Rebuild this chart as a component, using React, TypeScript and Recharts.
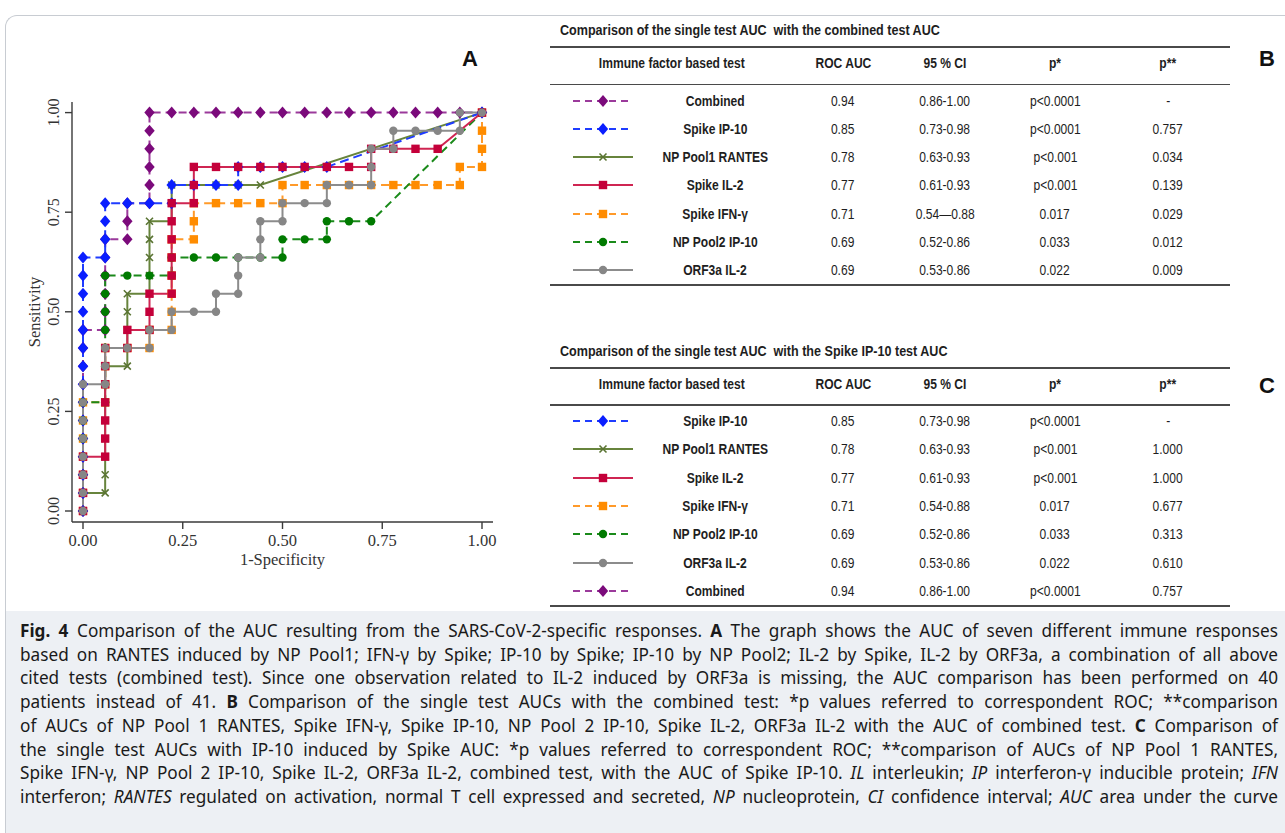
import React from 'react';
import { LineChart, Line, XAxis, YAxis } from 'recharts';

const N_NEG = 18;
const N_POS = 22;

const xTicks = [0, 0.25, 0.5, 0.75, 1];
const yTicks = [0, 0.25, 0.5, 0.75, 1];

// [false positives, true positives] at each cut-off
const combinedSteps = [
  [0, 0], [0, 1], [0, 2], [0, 3], [0, 4], [0, 5], [0, 6], [0, 7], [0, 8], [0, 9], [0, 10],
  [1, 10], [1, 11], [1, 12], [1, 13], [1, 14], [1, 15], [2, 15], [2, 16], [2, 17],
  [3, 17], [3, 18], [3, 19], [3, 20], [3, 21], [3, 22], [4, 22], [5, 22], [6, 22], [7, 22],
  [8, 22], [9, 22], [10, 22], [11, 22], [12, 22], [13, 22], [14, 22], [15, 22], [16, 22], [17, 22], [18, 22],
];
const spikeIp10Steps = [
  [0, 0], [0, 1], [0, 2], [0, 3], [0, 4], [0, 5], [0, 6], [0, 7], [0, 8], [0, 9], [0, 10], [0, 11], [0, 12], [0, 13], [0, 14],
  [1, 14], [1, 15], [1, 16], [1, 17], [2, 17], [3, 17], [4, 17], [4, 18], [5, 18], [6, 18], [7, 18],
  [7, 19], [8, 19], [9, 19], [10, 19], [11, 19], [18, 22],
];
const pool1RantesSteps = [
  [0, 0], [0, 1], [1, 1], [1, 2], [1, 3], [1, 4], [1, 5], [1, 6], [1, 7], [1, 8], [2, 8], [2, 9], [2, 10], [2, 11], [2, 12],
  [3, 12], [3, 13], [3, 14], [3, 15], [3, 16], [4, 16], [4, 17], [4, 18], [5, 18], [6, 18], [7, 18], [8, 18], [18, 22],
];
const spikeIl2Steps = [
  [0, 0], [0, 1], [0, 2], [0, 3], [1, 3], [1, 4], [1, 5], [1, 6], [1, 7], [1, 8], [1, 9], [2, 9], [2, 10], [3, 10], [3, 11], [3, 12],
  [4, 12], [4, 13], [4, 14], [4, 15], [4, 16], [4, 17], [5, 17], [5, 18], [5, 19], [6, 19], [7, 19], [8, 19], [9, 19], [10, 19],
  [11, 19], [12, 19], [13, 19], [13, 20], [14, 20], [15, 20], [16, 20], [18, 22],
];
const spikeIfnSteps = [
  [0, 0], [0, 1], [0, 2], [0, 3], [0, 4], [0, 5], [0, 6], [1, 6], [1, 7], [1, 8], [1, 9], [2, 9], [3, 9], [3, 10],
  [4, 10], [4, 11], [4, 12], [4, 13], [4, 14], [4, 15], [5, 15], [5, 16], [5, 17], [6, 17], [7, 17], [8, 17], [9, 17],
  [9, 18], [10, 18], [11, 18], [12, 18], [13, 18], [14, 18], [15, 18], [16, 18], [17, 18], [17, 19], [18, 19], [18, 20], [18, 21], [18, 22],
];
const pool2Ip10Steps = [
  [0, 0], [0, 1], [0, 2], [0, 3], [0, 4], [0, 5], [0, 6], [1, 6], [1, 7], [1, 8], [1, 9], [1, 10], [1, 11], [1, 12], [1, 13],
  [2, 13], [3, 13], [4, 13], [4, 14], [5, 14], [6, 14], [7, 14], [8, 14], [9, 14], [9, 15], [10, 15], [11, 15],
  [11, 16], [12, 16], [13, 16], [18, 22],
];
const orf3aIl2Steps = [
  [0, 0], [0, 1], [0, 2], [0, 3], [0, 4], [0, 5], [0, 6], [0, 7], [1, 7], [1, 8], [1, 9], [2, 9], [3, 9], [3, 10], [4, 10], [4, 11],
  [5, 11], [6, 11], [6, 12], [7, 12], [7, 13], [7, 14], [8, 14], [8, 15], [8, 16], [9, 16], [9, 17], [10, 17], [11, 17],
  [11, 18], [12, 18], [13, 18], [13, 19], [13, 20], [14, 20], [14, 21], [15, 21], [16, 21], [17, 21], [17, 22], [18, 22],
];

const toRoc = (steps: number[][]) => steps.map(([fp, tp]) => ({ x: fp / N_NEG, y: tp / N_POS }));

type Kind = 'diamond' | 'square' | 'circle' | 'x';
interface Style { stroke: string; fill: string; dash?: string; marker: Kind }

const styles: Record<string, Style> = {
  combined: { stroke: '#9b3a9b', fill: '#7b0a7b', dash: '8 5', marker: 'diamond' },
  ip10: { stroke: '#1f3cff', fill: '#0a1eff', dash: '9 5', marker: 'diamond' },
  rantes: { stroke: '#67843c', fill: '#5a7433', marker: 'x' },
  il2: { stroke: '#cf2552', fill: '#c4003a', marker: 'square' },
  ifn: { stroke: '#ff9a2a', fill: '#ff8c00', dash: '8 5', marker: 'square' },
  pool2: { stroke: '#1a8a1a', fill: '#007a00', dash: '8 5', marker: 'circle' },
  orf3a: { stroke: '#8c8c8c', fill: '#868686', marker: 'circle' },
};

// bottom to top
const drawOrder = [
  { key: 'combined', steps: combinedSteps },
  { key: 'ifn', steps: spikeIfnSteps },
  { key: 'rantes', steps: pool1RantesSteps },
  { key: 'ip10', steps: spikeIp10Steps },
  { key: 'pool2', steps: pool2Ip10Steps },
  { key: 'il2', steps: spikeIl2Steps },
  { key: 'orf3a', steps: orf3aIl2Steps },
];

// table B and C
const tableBNames = ['Combined', 'Spike IP-10', 'NP Pool1 RANTES', 'Spike IL-2', 'Spike IFN-γ', 'NP Pool2 IP-10', 'ORF3a IL-2'];
const tableBKeys = ['combined', 'ip10', 'rantes', 'il2', 'ifn', 'pool2', 'orf3a'];
const tableBAuc = ['0.94', '0.85', '0.78', '0.77', '0.71', '0.69', '0.69'];
const tableBCi = ['0.86-1.00', '0.73-0.98', '0.63-0.93', '0.61-0.93', '0.54—0.88', '0.52-0.86', '0.53-0.86'];
const tableBP1 = ['p<0.0001', 'p<0.0001', 'p<0.001', 'p<0.001', '0.017', '0.033', '0.022'];
const tableBP2 = ['-', '0.757', '0.034', '0.139', '0.029', '0.012', '0.009'];

const tableCNames = ['Spike IP-10', 'NP Pool1 RANTES', 'Spike IL-2', 'Spike IFN-γ', 'NP Pool2 IP-10', 'ORF3a IL-2', 'Combined'];
const tableCKeys = ['ip10', 'rantes', 'il2', 'ifn', 'pool2', 'orf3a', 'combined'];
const tableCAuc = ['0.85', '0.78', '0.77', '0.71', '0.69', '0.69', '0.94'];
const tableCCi = ['0.73-0.98', '0.63-0.93', '0.61-0.93', '0.54-0.88', '0.52-0.86', '0.53-0.86', '0.86-1.00'];
const tableCP1 = ['p<0.0001', 'p<0.001', 'p<0.001', '0.017', '0.033', '0.022', 'p<0.0001'];
const tableCP2 = ['-', '1.000', '1.000', '0.677', '0.313', '0.610', '0.757'];

const SERIF = "'Liberation Serif', 'Times New Roman', serif";
const ARIAL = "'Liberation Sans', Arial, sans-serif";
const NARROW_X = 0.86; // squeeze Liberation Sans towards Arial Narrow

function Marker({ kind, cx, cy, fill }: { kind: Kind; cx: number; cy: number; fill: string }) {
  if (kind === 'diamond') {
    return <polygon points={`${cx},${cy - 6} ${cx + 5.2},${cy} ${cx},${cy + 6} ${cx - 5.2},${cy}`} fill={fill} />;
  }
  if (kind === 'square') {
    return <rect x={cx - 4.2} y={cy - 4.2} width={8.4} height={8.4} fill={fill} />;
  }
  if (kind === 'circle') {
    return <circle cx={cx} cy={cy} r={4.2} fill={fill} />;
  }
  return (
    <path
      d={`M${cx - 3.5},${cy - 3.5}L${cx + 3.5},${cy + 3.5}M${cx - 3.5},${cy + 3.5}L${cx + 3.5},${cy - 3.5}`}
      stroke={fill}
      strokeWidth={1.6}
      fill="none"
    />
  );
}

const YTick = (props: any) => {
  const { x, y, payload } = props;
  const bx = x - 4;
  return (
    <text x={bx} y={y} transform={`rotate(-90 ${bx} ${y})`} textAnchor="middle" fontSize={16} fontFamily={SERIF} fill="#333">
      {Number(payload.value).toFixed(2)}
    </text>
  );
};

const XTick = (props: any) => {
  const { x, y, payload } = props;
  return (
    <text x={x} y={y + 15} textAnchor="middle" fontSize={16.5} fontFamily={SERIF} fill="#333">
      {Number(payload.value).toFixed(2)}
    </text>
  );
};

function RocChart() {
  return (
    <LineChart width={510} height={500} margin={{ top: 12, right: 17, bottom: 8, left: 0 }}>
      <XAxis
        dataKey="x"
        type="number"
        domain={[0, 1]}
        ticks={xTicks}
        allowDuplicatedCategory={false}
        padding={{ left: 11, right: 11 }}
        height={60}
        tickSize={7}
        tick={<XTick />}
        axisLine={{ stroke: '#3a3a3a', strokeWidth: 1.4 }}
        tickLine={{ stroke: '#3a3a3a', strokeWidth: 1.4 }}
        label={{
          content: (p: any) => (
            <text x={p.viewBox.x + p.viewBox.width / 2} y={p.viewBox.y + 43} textAnchor="middle" fontSize={16.5} fontFamily={SERIF} fill="#333">
              1-Specificity
            </text>
          ),
        }}
      />
      <YAxis
        dataKey="y"
        type="number"
        domain={[0, 1]}
        ticks={yTicks}
        padding={{ top: 10.6, bottom: 11 }}
        width={72}
        tickSize={7}
        tick={<YTick />}
        axisLine={{ stroke: '#3a3a3a', strokeWidth: 1.4 }}
        tickLine={{ stroke: '#3a3a3a', strokeWidth: 1.4 }}
        label={{
          content: (p: any) => {
            const cx = p.viewBox.x + 40;
            const cy = p.viewBox.y + p.viewBox.height / 2;
            return (
              <text x={cx} y={cy} transform={`rotate(-90 ${cx} ${cy})`} textAnchor="middle" fontSize={16.5} fontFamily={SERIF} fill="#333">
                Sensitivity
              </text>
            );
          },
        }}
      />
      {drawOrder.map(({ key, steps }) => {
        const s = styles[key];
        return (
          <Line
            key={key}
            data={toRoc(steps)}
            dataKey="y"
            type="linear"
            stroke={s.stroke}
            strokeWidth={2}
            strokeDasharray={s.dash}
            isAnimationActive={false}
            activeDot={false}
            dot={(p: any) => <Marker key={`${key}-${p.index}`} kind={s.marker} cx={p.cx} cy={p.cy} fill={s.fill} />}
          />
        );
      })}
    </LineChart>
  );
}

function Swatch({ k }: { k: string }) {
  const s = styles[k];
  return (
    <svg width={62} height={16} style={{ display: 'block' }}>
      <line x1={1} y1={8} x2={61} y2={8} stroke={s.stroke} strokeWidth={2} strokeDasharray={s.dash ? '7 5' : undefined} />
      <Marker kind={s.marker} cx={31} cy={8} fill={s.fill} />
    </svg>
  );
}

const colCenters = [715, 843, 945, 1055, 1168];

function Cell({ cx, cy, bold, children }: { cx: number; cy: number; bold?: boolean; children: React.ReactNode }) {
  return (
    <div
      style={{
        position: 'absolute',
        left: cx - 100,
        width: 200,
        top: cy - 9,
        height: 18,
        lineHeight: '18px',
        textAlign: 'center',
        fontFamily: ARIAL,
        fontSize: 14,
        fontWeight: bold ? 700 : 400,
        color: '#1e1e1e',
        whiteSpace: 'nowrap',
      }}
    >
      <span style={{ display: 'inline-block', transform: `scaleX(${NARROW_X})`, transformOrigin: 'center' }}>{children}</span>
    </div>
  );
}

function Rule({ y, w }: { y: number; w: number }) {
  return <div style={{ position: 'absolute', left: 550, width: 680, top: y - w / 2, height: w, background: '#4a4a4a' }} />;
}

function AucTable(props: {
  r0: number; title: string; names: string[]; keys: string[]; auc: string[]; ci: string[]; p1: string[]; p2: string[];
}) {
  const { r0, title, names, keys, auc, ci, p1, p2 } = props;
  const step = 28.3;
  return (
    <>
      <div
        style={{
          position: 'absolute',
          left: 560,
          top: r0 - 78.5,
          fontFamily: ARIAL,
          fontSize: 14.6,
          fontWeight: 700,
          color: '#1e1e1e',
          whiteSpace: 'pre',
          transform: `scaleX(${NARROW_X})`,
          transformOrigin: 'left',
        }}
      >
        {title}
      </div>
      <Rule y={r0 - 53.5} w={2} />
      <Cell cx={672} cy={r0 - 37.5} bold>Immune factor based test</Cell>
      <Cell cx={843} cy={r0 - 37.5} bold>ROC AUC</Cell>
      <Cell cx={945} cy={r0 - 37.5} bold>95 % CI</Cell>
      <Cell cx={1055} cy={r0 - 37.5} bold>p*</Cell>
      <Cell cx={1168} cy={r0 - 37.5} bold>p**</Cell>
      <Rule y={r0 - 16} w={1.5} />
      {names.map((n, i) => {
        const cy = r0 + i * step;
        return (
          <React.Fragment key={n}>
            <div style={{ position: 'absolute', left: 572, top: cy - 8 }}>
              <Swatch k={keys[i]} />
            </div>
            <Cell cx={colCenters[0]} cy={cy} bold>{n}</Cell>
            <Cell cx={colCenters[1]} cy={cy}>{auc[i]}</Cell>
            <Cell cx={colCenters[2]} cy={cy}>{ci[i]}</Cell>
            <Cell cx={colCenters[3]} cy={cy}>{p1[i]}</Cell>
            <Cell cx={colCenters[4]} cy={cy}>{p2[i]}</Cell>
          </React.Fragment>
        );
      })}
      <Rule y={r0 + 184.5} w={2} />
    </>
  );
}

const captionLines: React.ReactNode[] = [
  <><b>Fig. 4</b>{'\u2002'}Comparison of the AUC resulting from the SARS-CoV-2-specific responses. <b>A</b> The graph shows the AUC of seven different immune responses</>,
  <>based on RANTES induced by NP Pool1; IFN-γ by Spike; IP-10 by Spike; IP-10 by NP Pool2; IL-2 by Spike, IL-2 by ORF3a, a combination of all above</>,
  <>cited tests (combined test). Since one observation related to IL-2 induced by ORF3a is missing, the AUC comparison has been performed on 40</>,
  <>patients instead of 41. <b>B</b> Comparison of the single test AUCs with the combined test: *p values referred to correspondent ROC; **comparison</>,
  <>of AUCs of NP Pool 1 RANTES, Spike IFN-γ, Spike IP-10, NP Pool 2 IP-10, Spike IL-2, ORF3a IL-2 with the AUC of combined test. <b>C</b> Comparison of</>,
  <>the single test AUCs with IP-10 induced by Spike AUC: *p values referred to correspondent ROC; **comparison of AUCs of NP Pool 1 RANTES,</>,
  <>Spike IFN-γ, NP Pool 2 IP-10, Spike IL-2, ORF3a IL-2, combined test, with the AUC of Spike IP-10. <i>IL</i> interleukin; <i>IP</i> interferon-γ inducible protein; <i>IFN</i></>,
  <>interferon; <i>RANTES</i> regulated on activation, normal T cell expressed and secreted, <i>NP</i> nucleoprotein, <i>CI</i> confidence interval; <i>AUC</i> area under the curve</>,
];

export default function App() {
  return (
    <div style={{ position: 'relative', width: 1285, height: 833, background: '#fff', overflow: 'hidden' }}>
      <style>{'body{margin:0;}'}</style>
      <div
        style={{
          position: 'absolute',
          left: 5,
          top: 15,
          width: 1300,
          height: 830,
          borderTop: '1px solid #c8ccd2',
          borderLeft: '1px solid #c8ccd2',
          borderTopLeftRadius: 12,
        }}
      />
      <div style={{ position: 'absolute', left: 6, top: 611, width: 1290, height: 230, background: '#edf0f4' }} />

      <div style={{ position: 'absolute', left: 0, top: 90 }}>
        <RocChart />
      </div>

      <div style={{ position: 'absolute', left: 462, top: 46, fontFamily: ARIAL, fontWeight: 700, fontSize: 22, color: '#111' }}>A</div>
      <div style={{ position: 'absolute', left: 1259, top: 46, fontFamily: ARIAL, fontWeight: 700, fontSize: 22, color: '#111' }}>B</div>
      <div style={{ position: 'absolute', left: 1259, top: 373, fontFamily: ARIAL, fontWeight: 700, fontSize: 22, color: '#111' }}>C</div>

      <AucTable
        r0={100.5}
        title="Comparison of the single test AUC  with the combined test AUC"
        names={tableBNames}
        keys={tableBKeys}
        auc={tableBAuc}
        ci={tableBCi}
        p1={tableBP1}
        p2={tableBP2}
      />
      <AucTable
        r0={421}
        title="Comparison of the single test AUC  with the Spike IP-10 test AUC"
        names={tableCNames}
        keys={tableCKeys}
        auc={tableCAuc}
        ci={tableCCi}
        p1={tableCP1}
        p2={tableCP2}
      />

      {captionLines.map((line, i) => (
        <div
          key={i}
          style={{
            position: 'absolute',
            left: 20,
            width: 1258,
            top: 619 + i * 23.7,
            height: 24,
            lineHeight: '24px',
            fontFamily: "'Noto Sans', 'Open Sans', sans-serif",
            fontSize: 17.2,
            color: '#1a1a1a',
            textAlign: 'justify',
            textAlignLast: 'justify',
            whiteSpace: 'nowrap',
          }}
        >
          {line}
        </div>
      ))}
    </div>
  );
}
